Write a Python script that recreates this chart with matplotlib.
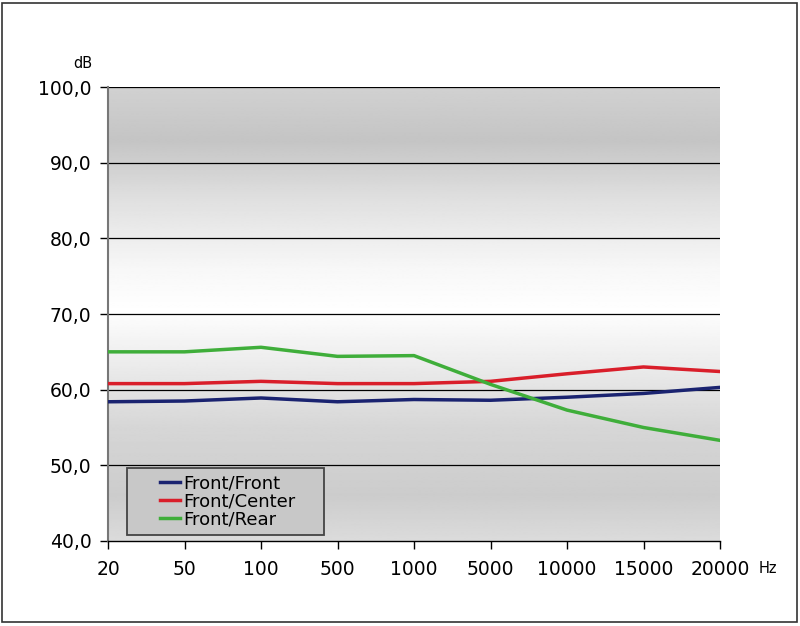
import matplotlib.pyplot as plt
import numpy as np
from matplotlib.patches import Rectangle

freqs = ["20", "50", "100", "500", "1000", "5000", "10000", "15000", "20000"]
front_front = [58.4, 58.5, 58.9, 58.4, 58.7, 58.6, 59.0, 59.5, 60.3]
front_center = [60.8, 60.8, 61.1, 60.8, 60.8, 61.1, 62.1, 63.0, 62.4]
front_rear = [65.0, 65.0, 65.6, 64.4, 64.5, 60.7, 57.3, 55.0, 53.3]

fig = plt.figure(figsize=(8, 6.26), dpi=100)
fig.patches.append(Rectangle((0.003, 0.006), 0.993, 0.99, transform=fig.transFigure,
                             fill=False, edgecolor='#333333', linewidth=1.2))
ax = fig.add_axes([0.135, 0.1358, 0.765, 0.7252])

x = np.arange(len(freqs))

# background shading: grey at top and bottom, white around 70 dB
yy = np.linspace(40, 100, 400)
shade = np.interp(yy, [40, 46, 55, 69.9, 70.1, 76, 85, 93, 100],
                  [0.86, 0.80, 0.84, 0.99, 1.0, 0.97, 0.88, 0.77, 0.82])
ax.imshow(shade[::-1, None], extent=[0, 8, 40, 100], aspect='auto', cmap='gray',
          vmin=0, vmax=1, zorder=0, interpolation='bilinear')

for v in [50, 60, 70, 80, 90, 100]:
    ax.axhline(v, color='black', linewidth=0.9, zorder=1)

ax.plot(x, front_front, color='#1a2370', linewidth=2.5, label='Front/Front', zorder=3)
ax.plot(x, front_center, color='#d91e2a', linewidth=2.5, label='Front/Center', zorder=3)
ax.plot(x, front_rear, color='#3fae3a', linewidth=2.5, label='Front/Rear', zorder=3)

ax.set_xlim(0, 8)
ax.set_ylim(40, 100)
ax.set_xticks(x)
ax.set_xticklabels(freqs)
ax.set_yticks(np.arange(40, 101, 10))
ax.set_yticklabels([f"{v:.1f}".replace('.', ',') for v in np.arange(40, 101, 10)])
ax.tick_params(labelsize=13.5, length=6, width=1, colors='black')
ax.tick_params(axis='y', pad=6)
ax.tick_params(axis='x', pad=8)
ax.spines['top'].set_visible(False)
ax.spines['right'].set_visible(False)
ax.spines['left'].set_color('#777777')
ax.spines['left'].set_linewidth(1.5)
ax.spines['bottom'].set_linewidth(1)

fig.text(0.104, 0.898, 'dB', fontsize=10.5, ha='center', va='center')
fig.text(0.96, 0.092, 'Hz', fontsize=10.5, ha='center', va='center')

# legend box drawn separately so it can be wider than the entries
ax.add_patch(Rectangle((0.031, 0.013), 0.322, 0.148, transform=ax.transAxes,
                       facecolor='#c8c8c8', edgecolor='#444444', linewidth=1.3, zorder=4))
leg = ax.legend(loc='upper left', bbox_to_anchor=(0.07, 0.166), fontsize=13,
                handlelength=1.1, handletextpad=0.2, labelspacing=0.0,
                borderpad=0.0, frameon=False)
leg.set_zorder(5)

fig.savefig('out.png', dpi=100)
